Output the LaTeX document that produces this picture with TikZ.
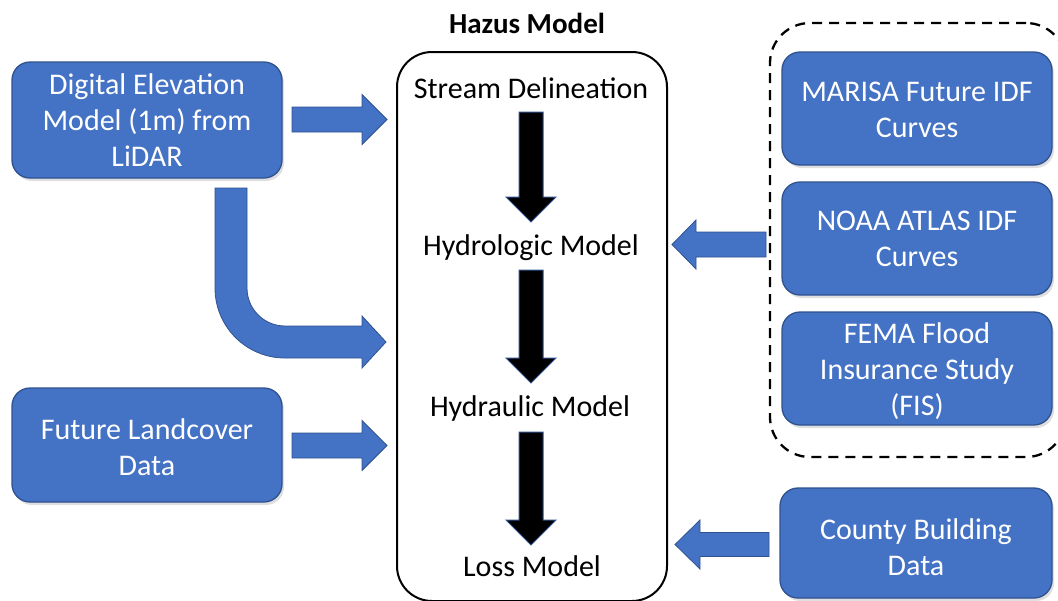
\documentclass[tikz,border=0pt]{standalone}
\usepackage{fontspec}
\setmainfont{Carlito}
\usetikzlibrary{calc,shadows}
\definecolor{obox}{HTML}{4472C4}
\definecolor{oline}{HTML}{2F528F}
\newcommand\blockarrow[6][]{%
  \coordinate (bab) at ($(#3)!#6!(#2)$);
  \path[#1] ($(#2)!#4!90:(#3)$) -- ($(bab)!#4!-90:(#2)$) -- ($(bab)!#5!-90:(#2)$) -- (#3)
    -- ($(bab)!#5!90:(#2)$) -- ($(bab)!#4!90:(#2)$) -- ($(#2)!#4!-90:(#3)$) -- cycle;}
\begin{document}
\begin{tikzpicture}[x=1pt,y=-1pt,
  font=\fontsize{30}{36}\selectfont,
  bluebox/.style={draw=oline, line width=1.3pt, fill=obox, rounded corners=18pt,
    text=white, align=center, minimum width=270pt, inner sep=0pt,
    drop shadow={shadow xshift=2pt,shadow yshift=-3pt,opacity=0.25}},
  boxtext/.style={text=white, align=center, inner sep=0pt},
  hazusbox/.style={draw=black, line width=2pt, rounded corners=35pt, minimum width=270pt,
    minimum height=549pt, inner sep=0pt},
  grpbox/.style={draw=black, line width=2.3pt, dash pattern=on 10pt off 7pt,
    rounded corners=40pt, minimum width=296pt, minimum height=434pt, inner sep=0pt},
  steplabel/.style={anchor=base, text=black},
  bluearrow/.style={fill=obox, draw=oline, line width=0.8pt},
  blackarrow/.style={fill=black, draw=oline, line width=1pt}
]
\useasboundingbox (0,0) rectangle (1058,600);

% Hazus model container
\node[font=\fontsize{29}{36}\selectfont\bfseries, anchor=base] (title) at (527,33) {Hazus Model};
\node[hazusbox] (hz) at (532,326.5) {};
\node[steplabel] (st) at (531,98) {Stream Delineation};
\node[steplabel] (hl) at (531,255) {Hydrologic Model};
\node[steplabel] (hd) at (530,416) {Hydraulic Model};
\node[steplabel] (ls) at (532,576) {Loss Model};

% left inputs
\node[bluebox, minimum height=116pt] (dem) at (147,120) {Digital Elevation\\Model (1m) from\\LiDAR};
\node[bluebox, minimum height=114pt] (lc) at (147,445) {};
\node[boxtext] (lct) at (147,447) {Future Landcover\\Data};

% right inputs
\node[grpbox] (grp) at (918,240) {};
\node[bluebox, minimum height=113pt] (marisa) at (917,108.5) {};
\node[boxtext] (marisat) at (917,109.5) {MARISA Future IDF\\Curves};
\node[bluebox, minimum height=113pt] (noaa) at (917,238.5) {NOAA ATLAS IDF\\Curves};
\node[bluebox, minimum height=113pt] (fema) at (917,368.5) {};
\node[boxtext] (femat) at (917,371.5) {FEMA Flood\\Insurance Study\\(FIS)};
\node[bluebox, minimum height=110pt, minimum width=272pt] (county) at (916,543) {};
\node[boxtext] (countyt) at (916,547) {County Building\\Data};

% arrow end points
\coordinate (a1s) at (292,119.5);  \coordinate (a1e) at (387,119.5);
\coordinate (a3s) at (292,445.5);  \coordinate (a3e) at (387,445.5);
\coordinate (a4s) at (766,244.5);  \coordinate (a4e) at (672,244.5);
\coordinate (a5s) at (769,544.5);  \coordinate (a5e) at (675,544.5);
\coordinate (b1s) at (531,112);    \coordinate (b1e) at (531,222);
\coordinate (b2s) at (531,270);    \coordinate (b2e) at (531,383);
\coordinate (b3s) at (531,432);    \coordinate (b3e) at (531,545);

% blue block arrows
\blockarrow[bluearrow]{a1s}{a1e}{12.5pt}{25pt}{25pt}
\blockarrow[bluearrow]{a3s}{a3e}{12.5pt}{25pt}{25pt}
\blockarrow[bluearrow]{a4s}{a4e}{12.5pt}{24.5pt}{24pt}
\blockarrow[bluearrow]{a5s}{a5e}{12pt}{24.5pt}{25pt}

% curved arrow from DEM to hydraulic model
\path[bluearrow] (215,188) -- (215,288) .. controls (215,326.7) and (246.3,358) .. (285,358)
  -- (362,358) -- (362,368) -- (386,342) -- (362,316) -- (362,326) -- (285,326)
  .. controls (264,326) and (247,309) .. (247,288) -- (247,188) -- cycle;

% black process arrows
\blockarrow[blackarrow]{b1s}{b1e}{12pt}{25pt}{25pt}
\blockarrow[blackarrow]{b2s}{b2e}{12pt}{25pt}{25pt}
\blockarrow[blackarrow]{b3s}{b3e}{12pt}{25pt}{25pt}
\end{tikzpicture}
\end{document}
